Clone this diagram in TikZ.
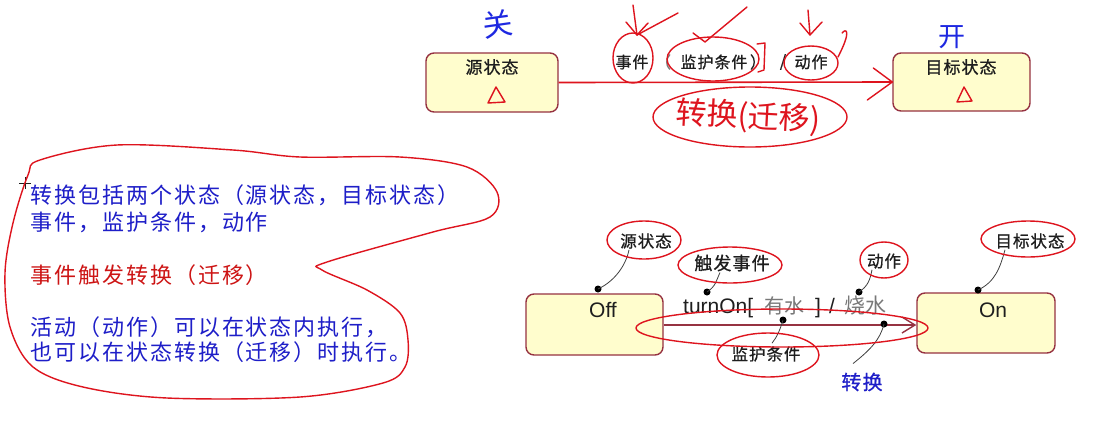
\documentclass[tikz,border=0pt]{standalone}
\usepackage{fontspec}
\usetikzlibrary{arrows.meta}
\newfontfamily\cjk{Noto Sans CJK SC}
\newfontfamily\cjksp{Noto Sans CJK SC}[LetterSpace=9]
\newfontfamily\cjkb{Noto Sans CJK SC}[LetterSpace=6, FakeBold=0.8]
\newfontfamily\arial{Liberation Sans}
\definecolor{boxfill}{RGB}{255,253,205}
\definecolor{boxline}{RGB}{150,50,65}
\definecolor{pen}{RGB}{222,20,30}
\definecolor{bluepen}{RGB}{30,40,225}
\definecolor{txtblue}{RGB}{30,30,200}
\definecolor{txtred}{RGB}{205,20,20}
\definecolor{ink}{RGB}{30,30,30}
\definecolor{graytxt}{RGB}{120,120,120}
\begin{document}
\begin{tikzpicture}[x=1pt,y=-1pt,
  statebox/.style={draw=boxline, line width=1.4pt, fill=boxfill, rounded corners=8pt, inner sep=0pt},
  penline/.style={draw=pen, line width=1.4pt, line cap=round, line join=round},
  callout/.style={draw=ink!85, line width=0.8pt},
  dotnode/.style={circle, fill=black, inner sep=0pt, minimum size=7pt},
  boxtext/.style={font=\cjkb\fontsize{17}{17}\selectfont, text=ink, inner sep=1pt},
  labtext/.style={font=\cjkb\fontsize{16}{16}\selectfont, text=ink, inner sep=1pt},
  lefttext/.style={font=\cjksp\fontsize{22}{22}\selectfont, anchor=west, inner sep=0pt},
  engtext/.style={font=\arial\fontsize{21}{21}\selectfont, text=ink, inner sep=0pt}]
\useasboundingbox (0,0) rectangle (1109,424);
\fill[white] (0,0) rectangle (1109,424);

% ---------- top diagram ----------
\node[statebox, minimum width=132pt, minimum height=59pt] (src) at (492,82.5) {};
\node[statebox, minimum width=137pt, minimum height=58pt] (tgt) at (961.5,82) {};
\node[boxtext] (srct) at (492,67) {源状态};
\node[boxtext] (tgtt) at (961,67) {目标状态};
\draw[penline] (496,87) -- (488,103) -- (505,102) -- cycle;
\draw[penline] (964,87) -- (957,102) -- (972,101) -- cycle;

\draw[draw=pen, line width=1.6pt] (src.east) -- (tgt.west);
\draw[penline] (tgt.west) -- ++(-19,-14);
\draw[penline] (tgt.west) -- ++(-25,18);

\node[labtext] (ev) at (632,62) {事件};
\node[labtext, text=ink!60] (lp) at (663,62) {（};
\node[labtext] (gd) at (714,62) {监护条件};
\node[labtext] (rp) at (758,62) {）};
\node[labtext] (sl) at (783,62) {/};
\node[labtext] (ac) at (811,62) {动作};

% red pen annotations on top
\draw[penline] (633,58) ellipse [x radius=20, y radius=25];
\draw[penline] (713,59) ellipse [x radius=46, y radius=22];
\draw[penline] (811,63) ellipse [x radius=27, y radius=17];
\draw[penline] (757,44) -- (765,43) -- (764,70) -- (758,72);
\draw[penline] (633,5) -- (637,35);
\draw[penline] (626,22) -- (637,35) -- (648,23);
\draw[penline] (637,35) -- (678,13);
\draw[penline] (693,33) -- (705,42) -- (747,7);
\draw[penline] (808,10) -- (810,35);
\draw[penline] (800,23) -- (810,35) -- (822,22);
\draw[penline] (842,33) .. controls (846,28) and (852,30) .. (838,57);
\draw[penline] (750,117) ellipse [x radius=97, y radius=30];
\node[font=\cjk\fontsize{31}{31}\selectfont, text=pen, rotate=-3, inner sep=0pt] (hw) at (748,117) {转换(迁移)};
\node[font=\cjk\fontsize{30}{30}\selectfont, text=bluepen, inner sep=0pt, rotate=8] (guan) at (498,24) {关};
\node[font=\cjk\fontsize{27}{27}\selectfont, text=bluepen, inner sep=0pt] (kai) at (952,37) {开};

% ---------- left text ----------
\draw[draw=ink, line width=0.6pt] (19,183) -- (31,183) (25,177) -- (25,189);
\node[lefttext, text=txtblue] (l1) at (30,195) {转换包括两个状态（源状态，目标状态）};
\node[lefttext, text=txtblue] (l2) at (30,222) {事件，监护条件，动作};
\node[lefttext, text=txtred] (l3) at (30,275) {事件触发转换（迁移）};
\node[lefttext, text=txtblue] (l4) at (30,327) {活动（动作）可以在状态内执行，};
\node[lefttext, text=txtblue] (l5) at (30,352) {也可以在状态转换（迁移）时执行。};
\draw[penline] plot[smooth cycle, tension=0.55] coordinates {
  (40,160) (117,145) (233,150) (300,157) (400,157) (467,167) (497,192)
  (490,217) (433,232) (327,262) (322,270) (367,290) (400,313) (408,340)
  (405,367) (383,383) (300,397) (167,398) (83,387) (33,367) (10,327)
  (5,273) (13,223) (28,175)};

% ---------- bottom diagram ----------
\node[statebox, minimum width=137pt, minimum height=61pt] (off) at (594.5,324.5) {};
\node[statebox, minimum width=138pt, minimum height=60pt] (on) at (986,323) {};
\node[engtext] (offt) at (603,310) {Off};
\node[engtext] (ont) at (993,310) {On};
\draw[draw=boxline, line width=1.4pt, -{Straight Barb[length=13pt,width=16pt,line width=1.4pt]}] (off.east |- 0,325) -- (on.west |- 0,325);

\node[engtext, anchor=base west] (tr1) at (683,313) {turnOn[};
\node[font=\cjk\fontsize{20}{20}\selectfont, text=graytxt, inner sep=0pt] (tr2) at (784,306) {有水};
\node[engtext, anchor=base west] (tr3) at (815,313) {]};
\node[engtext, anchor=base west] (tr4) at (829,313) {/};
\node[font=\cjk\fontsize{21}{21}\selectfont, text=graytxt, inner sep=0pt] (tr5) at (865,306) {烧水};

\node[dotnode] (d1) at (598,289) {};
\node[dotnode] (d2) at (707,292) {};
\node[dotnode] (d3) at (859,292) {};
\node[dotnode] (d4) at (978,290) {};
\node[dotnode] (d5) at (783,320) {};
\node[dotnode] (d6) at (884,324) {};

\node[labtext, font=\cjkb\fontsize{16.5}{16.5}\selectfont] (lsrc) at (646,241) {源状态};
\node[labtext, font=\cjkb\fontsize{18}{18}\selectfont] (ltrig) at (732,263) {触发事件};
\node[labtext, font=\cjkb\fontsize{16.5}{16.5}\selectfont] (lact) at (884,261) {动作};
\node[labtext, font=\cjkb\fontsize{16.5}{16.5}\selectfont] (ltgt) at (1030,241) {目标状态};
\node[labtext, font=\cjkb\fontsize{16.5}{16.5}\selectfont] (lguard) at (766,354) {监护条件};
\node[font=\cjkb\fontsize{20}{20}\selectfont, text=txtblue, inner sep=1pt] (ltrans) at (862,382) {转换};

\draw[callout] (d1.center) .. controls (615,281) and (626,265) .. ([xshift=-17pt]lsrc.south);
\draw[callout] (d2.center) .. controls (716,286) and (716,281) .. ([xshift=-12pt]ltrig.south);
\draw[callout] (d3.center) .. controls (868,286) and (870,280) .. ([xshift=-12pt]lact.south);
\draw[callout] (d4.center) .. controls (995,282) and (1000,268) .. ([xshift=-25pt]ltgt.south);
\draw[callout] (d5.center) .. controls (780,330) and (777,337) .. ([xshift=6pt,yshift=2pt]lguard.north);
\draw[callout] (d6.center) .. controls (880,340) and (870,350) .. ([xshift=-9pt,yshift=8pt]ltrans.north);

\draw[penline] (644,240) ellipse [x radius=37, y radius=19];
\draw[penline] (730,265) ellipse [x radius=52, y radius=18];
\draw[penline] (884,260) ellipse [x radius=24, y radius=18];
\draw[penline] (1028,239) ellipse [x radius=47, y radius=18];
\draw[penline] (768,355) ellipse [x radius=51, y radius=22];
\draw[penline] (782,328) ellipse [x radius=146, y radius=19];
\end{tikzpicture}
\end{document}
